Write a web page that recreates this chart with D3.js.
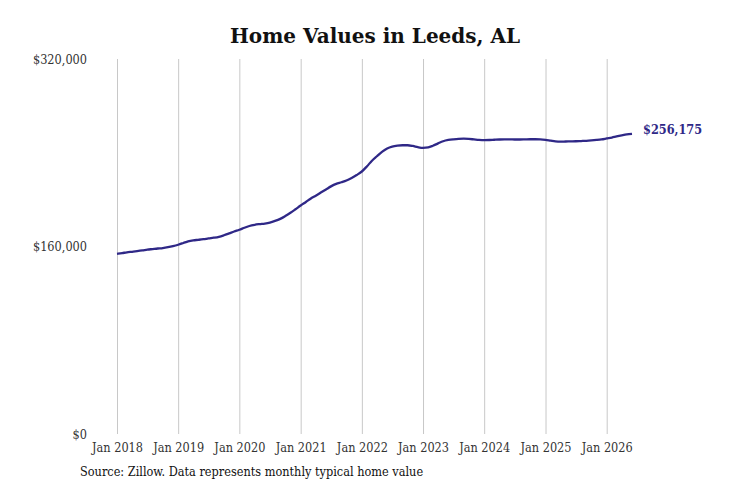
<!DOCTYPE html>
<html>
<head>
<meta charset="utf-8">
<script src="https://cdn.jsdelivr.net/npm/d3@7"></script>
<style>
  body { margin: 0; background: #fff; }
  svg { display: block; }
</style>
</head>
<body>
<div id="chart"></div>
<script>
// monthly typical home value, Jan 2018 .. Jun 2026
var startMonth = "2018-01";
var values = [
  153800, 154400, 155000, 155500, 156000, 156600, 157300, 157800, 158300, 158700, 159400, 160300,
  161500, 163000, 164400, 165300, 165700, 166200, 166900, 167500, 168300, 169600, 171200, 172800,
  174300, 176000, 177500, 178500, 179100, 179600, 180400, 181800, 183600, 186000, 188800, 191800,
  195000, 198000, 200800, 203400, 206000, 208700, 211300, 213400, 214800, 216300, 218500, 221000,
  224000, 228500, 233000, 237000, 240800, 243700, 245300, 246100, 246400, 246400, 245800, 244800,
  244200, 244600, 246000, 248000, 249800, 250900, 251500, 251900, 252000, 251800, 251400, 251000,
  250800, 250900, 251100, 251300, 251400, 251400, 251300, 251300, 251400, 251500, 251500, 251400,
  251000, 250300, 249700, 249500, 249600, 249700, 249800, 250000, 250200, 250500, 250900, 251400,
  252200, 253000, 253900, 254800, 255600, 256175
];
var yTicks = [0, 160000, 320000];
var xTickYears = [2018, 2019, 2020, 2021, 2022, 2023, 2024, 2025, 2026];

var width = 731, height = 487;
var margin = {top: 59, right: 99, bottom: 53, left: 117};
var smallFont = "'DejaVu Serif Condensed', 'DejaVu Serif', serif";

var parseMonth = d3.timeParse("%Y-%m");
var t0 = parseMonth(startMonth);
var data = values.map(function(v, i) {
  return {date: d3.timeMonth.offset(t0, i), value: v};
});

var svg = d3.select("#chart").append("svg")
    .attr("width", width)
    .attr("height", height);

var x = d3.scaleTime()
    .domain(d3.extent(data, d => d.date))
    .range([margin.left, width - margin.right]);

var y = d3.scaleLinear()
    .domain([0, 320000])
    .range([height - margin.bottom, margin.top]);

// title
svg.append("text")
    .attr("x", 375)
    .attr("y", 43)
    .attr("text-anchor", "middle")
    .style("font-family", "'DejaVu Serif', serif")
    .style("font-weight", "bold")
    .style("font-size", "20px")
    .style("fill", "#111")
    .text("Home Values in Leeds, AL");

// vertical grid + year labels
var xTicks = xTickYears.map(yr => new Date(yr, 0, 1));
var xAxis = svg.append("g")
    .attr("transform", "translate(0," + (height - margin.bottom) + ")")
    .call(d3.axisBottom(x)
        .tickValues(xTicks)
        .tickFormat(d3.timeFormat("Jan %Y"))
        .tickSizeInner(-(height - margin.top - margin.bottom))
        .tickSizeOuter(0)
        .tickPadding(9));
xAxis.select(".domain").remove();
xAxis.selectAll(".tick line").attr("stroke", "#c8c8c8").attr("stroke-width", 1);
xAxis.selectAll(".tick text")
    .style("font-family", smallFont)
    .style("font-size", "12.6px")
    .style("fill", "#333");

// y labels, no axis line
var yAxis = svg.append("g")
    .attr("transform", "translate(" + 87 + ",0)")
    .call(d3.axisLeft(y)
        .tickValues(yTicks)
        .tickFormat(d => "$" + d3.format(",")(d))
        .tickSize(0)
        .tickPadding(0));
yAxis.select(".domain").remove();
yAxis.selectAll(".tick text")
    .style("font-family", smallFont)
    .style("font-size", "12.6px")
    .style("fill", "#333");

// line
var line = d3.line()
    .x(d => x(d.date))
    .y(d => y(d.value))
    .curve(d3.curveMonotoneX);

svg.append("path")
    .datum(data)
    .attr("fill", "none")
    .attr("stroke", "#2f2887")
    .attr("stroke-width", 2.3)
    .attr("d", line);

// end label
var last = data[data.length - 1];
svg.append("text")
    .attr("x", x(last.date) + 11)
    .attr("y", y(last.value) - 4)
    .attr("dy", "0.35em")
    .style("font-family", smallFont)
    .style("font-size", "12.6px")
    .style("font-weight", "bold")
    .style("fill", "#2f2887")
    .text("$" + d3.format(",")(last.value));

// source note
svg.append("text")
    .attr("x", 80)
    .attr("y", 476)
    .style("font-family", smallFont)
    .style("font-size", "12.6px")
    .style("fill", "#111")
    .text("Source: Zillow. Data represents monthly typical home value");
</script>
</body>
</html>
